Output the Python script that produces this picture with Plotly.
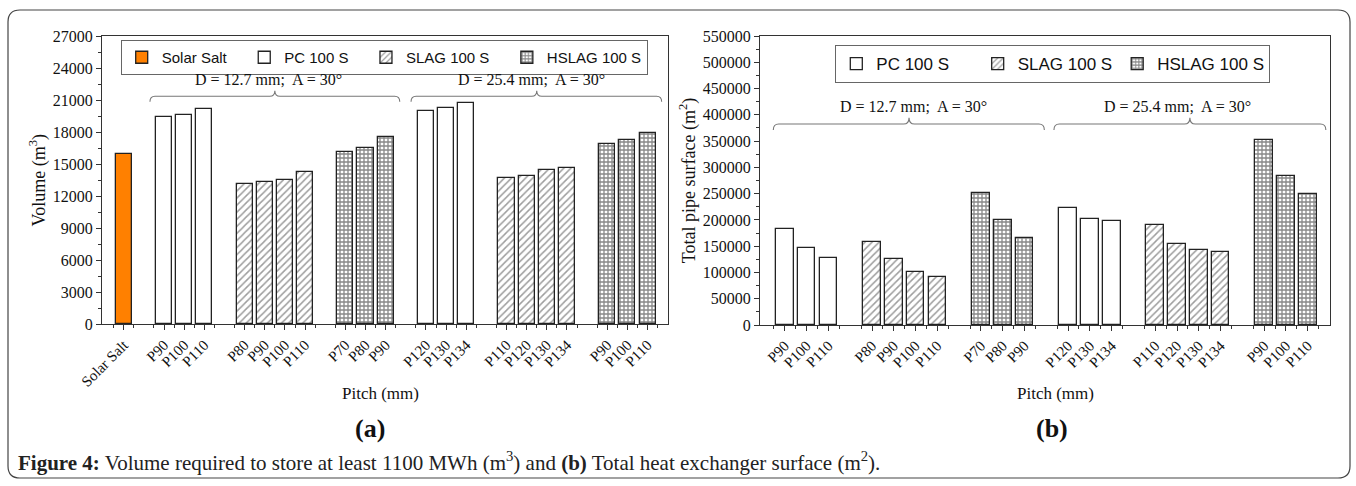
import plotly.graph_objects as go

# ---------------- data ----------------
# (a) storage volume, m3
vol_solar_salt_labels = ["Solar Salt"]
vol_solar_salt = [15950]

pitch_pc_127 = ["P90", "P100", "P110"]
vol_pc_127 = [19370, 19560, 20120]
pitch_slag_127 = ["P80", "P90", "P100", "P110"]
vol_slag_127 = [13150, 13340, 13500, 14250]
pitch_hslag_127 = ["P70", "P80", "P90"]
vol_hslag_127 = [16150, 16530, 17500]

pitch_pc_254 = ["P120", "P130", "P134"]
vol_pc_254 = [19930, 20300, 20680]
pitch_slag_254 = ["P110", "P120", "P130", "P134"]
vol_slag_254 = [13690, 13900, 14440, 14650]
pitch_hslag_254 = ["P90", "P100", "P110"]
vol_hslag_254 = [16900, 17280, 17870]

# (b) total pipe surface, m2
surf_pc_127 = [183300, 146000, 126900]
surf_slag_127 = [158000, 125600, 100900, 90700]
surf_hslag_127 = [251200, 199200, 165000]
surf_pc_254 = [222700, 201100, 197300]
surf_slag_254 = [190300, 154800, 143400, 139500]
surf_hslag_254 = [352100, 283600, 248700]

vol_ticks = list(range(0, 27001, 3000))
surf_ticks = list(range(0, 550001, 50000))

# ---------------- styling ----------------
SERIF = "Liberation Serif, Times New Roman, serif"
SANS = "Liberation Sans, Arial, sans-serif"
W, H = 1356, 486
AX = "#333333"
BAR_LINE = dict(color="#222222", width=1.3)
NB = "\u00a0"

STYLES = {
    "Solar Salt": dict(color="#FF8000", pattern=None),
    "PC 100 S": dict(color="white", pattern=None),
    "SLAG 100 S": dict(color="white",
                       pattern=dict(shape="/", fgcolor="#3c3c3c", bgcolor="white",
                                    size=5, solidity=0.3)),
    "HSLAG 100 S": dict(color="white",
                        pattern=dict(shape="+", fgcolor="#111111", bgcolor="white",
                                     size=4, solidity=0.55)),
}


def layout_groups(groups):
    """Place groups of bars one slot apart; return positions, tick values and labels."""
    pos, slot = [], 0
    tickvals, ticktext = [], []
    for labels in groups:
        p = list(range(slot, slot + len(labels)))
        pos.append(p)
        tickvals += p
        ticktext += labels
        slot += len(labels) + 1
    return pos, tickvals, ticktext


def px_x(v):
    return v / W


def px_y(v):
    return 1 - v / H


def bar_marker(name):
    st = STYLES[name]
    m = dict(color=st["color"], line=BAR_LINE)
    if st["pattern"]:
        m["pattern"] = st["pattern"]
    return m


fig = go.Figure()

# ---- panel (a) ----
groups_a = [vol_solar_salt_labels, pitch_pc_127, pitch_slag_127, pitch_hslag_127,
            pitch_pc_254, pitch_slag_254, pitch_hslag_254]
pos_a, tv_a, tt_a = layout_groups(groups_a)
series_a = [
    ("Solar Salt", pos_a[0], vol_solar_salt, 3),
    ("PC 100 S", pos_a[1] + pos_a[4], vol_pc_127 + vol_pc_254, 3),
    ("SLAG 100 S", pos_a[2] + pos_a[5], vol_slag_127 + vol_slag_254, 3),
    ("HSLAG 100 S", pos_a[3] + pos_a[6], vol_hslag_127 + vol_hslag_254, 0),
]
for name, xs, ys, pad in series_a:
    fig.add_trace(go.Bar(x=xs, y=ys, name=name + NB * pad, width=0.8,
                         marker=bar_marker(name), xaxis="x", yaxis="y",
                         legend="legend"))

# ---- panel (b) ----
groups_b = [pitch_pc_127, pitch_slag_127, pitch_hslag_127,
            pitch_pc_254, pitch_slag_254, pitch_hslag_254]
pos_b, tv_b, tt_b = layout_groups(groups_b)
series_b = [
    ("PC 100 S", pos_b[0] + pos_b[3], surf_pc_127 + surf_pc_254, 5),
    ("SLAG 100 S", pos_b[1] + pos_b[4], surf_slag_127 + surf_slag_254, 0),
    ("HSLAG 100 S", pos_b[2] + pos_b[5], surf_hslag_127 + surf_hslag_254, 0),
]
for name, xs, ys, pad in series_b:
    fig.add_trace(go.Bar(x=xs, y=ys, name=name + NB * pad, width=0.81,
                         marker=bar_marker(name), xaxis="x2", yaxis="y2",
                         legend="legend2"))


def xaxis_cfg(domain, rng, tickvals, ticktext, anchor):
    half = [v + 0.5 for v in range(int(rng[0]) - 1, int(rng[1]) + 1)]
    return dict(domain=domain, range=rng, anchor=anchor, tickmode="array",
                tickvals=tickvals, ticktext=ticktext, tickangle=-45,
                ticks="outside", ticklen=5, tickwidth=1.2, tickcolor=AX,
                minor=dict(tickmode="array", tickvals=half, ticks="outside",
                           ticklen=3, tickwidth=1, tickcolor=AX),
                showline=True, linecolor=AX, linewidth=1.3, mirror=True,
                showgrid=False, zeroline=False, automargin=False,
                tickfont=dict(family=SERIF, size=15, color="#111"))


def yaxis_cfg(domain, rng, ticks, minor_step, title, anchor):
    return dict(domain=domain, range=rng, anchor=anchor, tickmode="array",
                tickvals=ticks, ticktext=[str(t) for t in ticks],
                ticks="outside", ticklen=5, tickwidth=1.2, tickcolor=AX,
                minor=dict(dtick=minor_step, ticks="outside", ticklen=3,
                           tickwidth=1, tickcolor=AX),
                showline=True, linecolor=AX, linewidth=1.3, mirror=True,
                showgrid=False, zeroline=False, automargin=False,
                tickfont=dict(family=SERIF, size=16, color="#111"),
                title=dict(text=title, standoff=2,
                           font=dict(family=SERIF, size=18, color="#111")))


legend_common = dict(orientation="h", xanchor="left", yanchor="top",
                     bordercolor="#666666", borderwidth=1, bgcolor="white",
                     tracegroupgap=0)

fig.update_layout(
    width=W, height=H, margin=dict(l=0, r=0, t=0, b=0, autoexpand=False),
    paper_bgcolor="white", plot_bgcolor="white",
    barmode="overlay", bargap=0,
    xaxis=xaxis_cfg([px_x(102), px_x(667.7)], [-1.08, 27.0], tv_a, tt_a, "y"),
    yaxis=yaxis_cfg([px_y(324.3), px_y(36)], [0, 27000], vol_ticks, 1500,
                    "Volume (m<sup>3</sup>)", "x"),
    xaxis2=xaxis_cfg([px_x(760), px_x(1330)], [-1.14, 25.02], tv_b, tt_b, "y2"),
    yaxis2=yaxis_cfg([px_y(325), px_y(36)], [0, 550000], surf_ticks, 25000,
                     "Total pipe surface (m<sup>2</sup>)", "x2"),
    legend=dict(x=px_x(120.7), y=px_y(40),
                font=dict(family=SANS, size=15, color="#111"), **legend_common),
    legend2=dict(x=px_x(835.3), y=px_y(45),
                 font=dict(family=SANS, size=17, color="#111"), **legend_common),
    showlegend=True,
)


# ---- group brackets with their labels ----
def bracket(xref, yref, x0, x1, xc, ytop, yend, ypeak, dx):
    path = (f"M{x0},{yend} Q{x0},{ytop} {x0 + dx},{ytop} "
            f"L{xc - dx},{ytop} Q{xc},{ytop} {xc},{ypeak} "
            f"Q{xc},{ytop} {xc + dx},{ytop} "
            f"L{x1 - dx},{ytop} Q{x1},{ytop} {x1},{yend}")
    fig.add_shape(type="path", path=path, xref=xref, yref=yref,
                  line=dict(color="#777777", width=1.1))


bracket("x", "y", 1.3, 13.7, 7.5, 21356, 20840, 21870, 0.25)
bracket("x", "y", 14.26, 26.7, 20.5, 21356, 20840, 21870, 0.25)
bracket("x2", "y2", -0.53, 11.91, 5.7, 382500, 371100, 394500, 0.25)
bracket("x2", "y2", 12.35, 24.83, 18.59, 382500, 371100, 394500, 0.25)

group_labels = [
    ("x", "y", 7.16, 22900, "D = 12.7 mm;  A = 30°"),
    ("x", "y", 20.25, 22900, "D = 25.4 mm;  A = 30°"),
    ("x2", "y2", 5.9, 415400, "D = 12.7 mm;  A = 30°"),
    ("x2", "y2", 18.0, 415400, "D = 25.4 mm;  A = 30°"),
]
for xr, yr, xv, yv, txt in group_labels:
    fig.add_annotation(x=xv, y=yv, xref=xr, yref=yr, text=txt, showarrow=False,
                       xanchor="center", yanchor="middle",
                       font=dict(family=SERIF, size=16, color="#111"))

# ---- axis titles under the pitch labels ----
for xp in (380, 1055):
    fig.add_annotation(x=px_x(xp), y=px_y(393), xref="paper", yref="paper",
                       xanchor="center", yanchor="middle",
                       text="Pitch (mm)", showarrow=False,
                       font=dict(family=SERIF, size=17, color="#111"))

# ---- panel letters and caption ----
for xp, txt in [(370, "(a)"), (1052, "(b)")]:
    fig.add_annotation(x=px_x(xp), y=px_y(428), xref="paper", yref="paper",
                       xanchor="center", yanchor="middle",
                       text=f"<b>{txt}</b>", showarrow=False,
                       font=dict(family=SERIF, size=26, color="#111"))

fig.add_annotation(
    x=px_x(16), y=px_y(461), xref="paper", yref="paper", xanchor="left",
    yanchor="middle", showarrow=False, align="left",
    text=("<b>Figure 4:</b> Volume required to store at least 1100 MWh (m<sup>3</sup>) "
          "and <b>(b)</b> Total heat exchanger surface (m<sup>2</sup>)."),
    font=dict(family=SERIF, size=21, color="#222"))

# ---- rounded outer frame ----
L, R, T, B, r = 8, 1350, 10, 478, 12
rx, ry = r / W, r / H
frame = (f"M{px_x(L) + rx},{px_y(T)} L{px_x(R) - rx},{px_y(T)} "
         f"Q{px_x(R)},{px_y(T)} {px_x(R)},{px_y(T) - ry} "
         f"L{px_x(R)},{px_y(B) + ry} Q{px_x(R)},{px_y(B)} {px_x(R) - rx},{px_y(B)} "
         f"L{px_x(L) + rx},{px_y(B)} Q{px_x(L)},{px_y(B)} {px_x(L)},{px_y(B) + ry} "
         f"L{px_x(L)},{px_y(T) - ry} Q{px_x(L)},{px_y(T)} {px_x(L) + rx},{px_y(T)} Z")
fig.add_shape(type="path", path=frame, xref="paper", yref="paper",
              line=dict(color="#444444", width=1.2), layer="below")

fig.write_html("out.html")
